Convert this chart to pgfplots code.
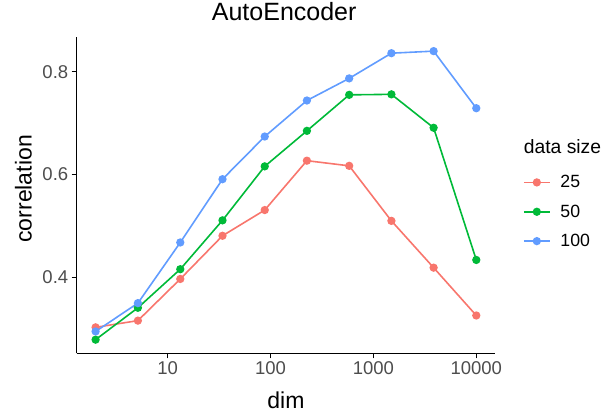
\documentclass[border=0pt]{standalone}
\usepackage{fontspec}
\setmainfont{Liberation Sans}
\usepackage{pgfplots}
\pgfplotsset{compat=1.18}
\definecolor{c25}{HTML}{F8766D}
\definecolor{c50}{HTML}{00BA38}
\definecolor{c100}{HTML}{619CFF}
\definecolor{tickgrey}{HTML}{4D4D4D}
\begin{document}
\begin{tikzpicture}[x=1pt,y=1pt]
\path[use as bounding box] (0,0) rectangle (605,419);
\begin{axis}[
  at={(76.7pt,65.7pt)}, anchor=south west,
  scale only axis, width=418.3pt, height=316.3pt,
  xmode=log, xmin=1.31, xmax=15200, ymin=0.2525, ymax=0.8675,
  axis x line*=bottom, axis y line*=left,
  axis line style={-, black, line width=1.3pt},
  xtick={10,100,1000,10000}, xticklabels={10,100,1000,10000},
  minor xtick={}, xminorticks=false,
  ytick={0.4,0.6,0.8}, yticklabels={0.4,0.6,0.8},
  tick align=outside, major tick length=5pt,
  every tick/.style={black, line width=1.3pt},
  xticklabel style={font=\fontsize{18.5}{18.5}\selectfont, text=tickgrey},
  yticklabel style={font=\fontsize{18.5}{18.5}\selectfont, text=tickgrey},
  xlabel={dim}, ylabel={correlation},
  xlabel style={at={(axis description cs:0.5003,-0.173)}, anchor=base, xshift=0pt, yshift=0pt, font=\fontsize{23}{23}\selectfont},
  ylabel style={at={(axis description cs:-0.1076,0.52)}, anchor=base, xshift=0pt, yshift=0pt, font=\fontsize{23}{23}\selectfont},
  legend style={at={(axis description cs:1.0669,0.5628)}, anchor=north west, draw=none, fill=none,
    font=\fontsize{17.7}{17.7}\selectfont, row sep=15.5pt, column sep=0pt, inner sep=0pt,
    nodes={inner sep=0pt}},
  legend cell align=left,
  legend image code/.code={\draw[mark repeat=2,mark phase=2] plot coordinates {(0pt,0pt) (12.85pt,0pt) (25.7pt,0pt)};},
  every axis plot/.append style={line width=1.6pt, mark=*, mark size=3.3pt},
  clip=false,
]
\addplot[c25, mark options={fill=c25, draw=c25}] coordinates {
 (2,0.303) (5.15,0.316) (13.3,0.397) (34.2,0.481) (88,0.531)
 (226,0.627) (582,0.617) (1497,0.510) (3850,0.419) (10000,0.326)};
\addlegendentry{\hspace{10pt}25}
\addplot[c50, mark options={fill=c50, draw=c50}] coordinates {
 (2,0.279) (5.15,0.341) (13.3,0.416) (34.2,0.511) (88,0.616)
 (226,0.685) (582,0.755) (1497,0.756) (3850,0.691) (10000,0.434)};
\addlegendentry{\hspace{10pt}50}
\addplot[c100, mark options={fill=c100, draw=c100}] coordinates {
 (2,0.295) (5.15,0.350) (13.3,0.468) (34.2,0.591) (88,0.674)
 (226,0.744) (582,0.787) (1497,0.836) (3850,0.840) (10000,0.729)};
\addlegendentry{\hspace{10pt}100}
\node[anchor=base, inner sep=0pt, font=\fontsize{25}{25}\selectfont] at (axis description cs:0.496,1.0537) {AutoEncoder};
\node[anchor=base west, inner sep=0pt, font=\fontsize{19.3}{19.3}\selectfont] at (axis description cs:1.0685,0.632) {data size};
\end{axis}
\end{tikzpicture}
\end{document}
